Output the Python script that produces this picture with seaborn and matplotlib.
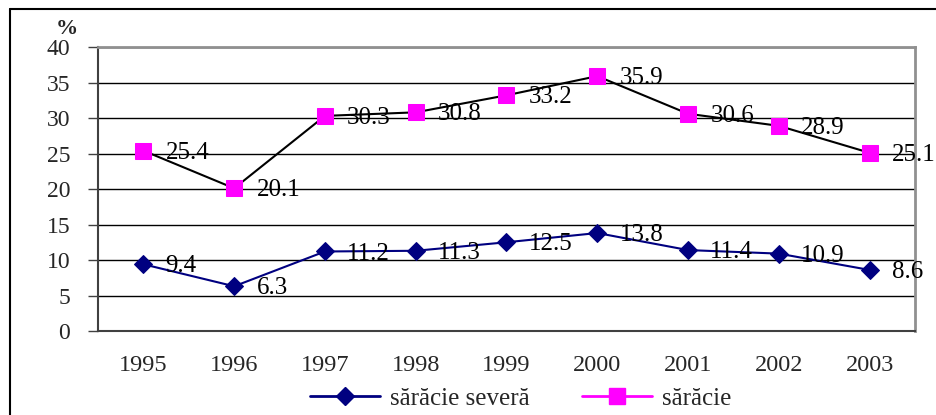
import matplotlib
matplotlib.use("Agg")
import matplotlib.pyplot as plt
from matplotlib.lines import Line2D
import pandas as pd
import seaborn as sns

years = ["1995", "1996", "1997", "1998", "1999", "2000", "2001", "2002", "2003"]
severe_poverty = [9.4, 6.3, 11.2, 11.3, 12.5, 13.8, 11.4, 10.9, 8.6]
poverty = [25.4, 20.1, 30.3, 30.8, 33.2, 35.9, 30.6, 28.9, 25.1]
y_ticks = [0, 5, 10, 15, 20, 25, 30, 35, 40]

sns.set_style("white")
plt.rcParams["font.family"] = ["Liberation Serif", "DejaVu Serif"]

data = pd.DataFrame({"An": years, "severa": severe_poverty, "saracie": poverty})
data["pos"] = range(len(years))

fig = plt.figure(figsize=(9.37, 4.15), dpi=100)
ax = fig.add_axes([0.1046, 0.2024, 0.9765 - 0.1046, 0.8867 - 0.2024])

sns.lineplot(data=data, x="pos", y="severa", ax=ax, color="#000080", lw=1.5,
             marker="D", markersize=9.5, markerfacecolor="#000080",
             markeredgecolor="#000080", zorder=3)
sns.lineplot(data=data, x="pos", y="saracie", ax=ax, color="black", lw=1.5,
             marker="s", markersize=11, markerfacecolor="#FF00FF",
             markeredgecolor="#FF00FF", zorder=3)

# data labels right of the markers
for series in (severe_poverty, poverty):
    for i, v in enumerate(series):
        ax.annotate(f"{v}", (i, v), xytext=(16, -1.5), textcoords="offset points",
                    ha="left", va="center", fontsize=18, color="black", zorder=4)

ax.set_xlim(-0.5, len(years) - 0.5)
ax.set_ylim(0, 40)
ax.set_yticks(y_ticks)
ax.set_yticklabels([str(t) for t in y_ticks], fontsize=17)
ax.set_xticks(range(len(years)))
ax.set_xticklabels(years, fontsize=17.5)
ax.set_xticks([i - 0.5 for i in range(len(years) + 1)], minor=True)
ax.tick_params(axis="x", which="major", length=0, pad=17)
ax.tick_params(axis="x", which="minor", length=5, width=1, color="#404040", direction="out")
ax.tick_params(axis="y", length=7, width=1, color="#404040", pad=13, left=True)
ax.set_xlabel("")
ax.set_ylabel("")

ax.grid(axis="y", color="black", lw=1)
ax.set_axisbelow(True)
for side in ("left", "bottom"):
    ax.spines[side].set_color("#404040")
    ax.spines[side].set_linewidth(1.5)
for side in ("top", "right"):
    ax.spines[side].set_color("#909090")
    ax.spines[side].set_linewidth(2)

fig.text(0.0715, 0.930, "%", fontsize=16, fontweight="bold", ha="center", va="center")

handles = [
    Line2D([], [], color="#000080", lw=2, marker="D", markersize=9.5,
           markerfacecolor="#000080", markeredgecolor="#000080"),
    Line2D([], [], color="#FF00FF", lw=2, marker="s", markersize=11,
           markerfacecolor="#FF00FF", markeredgecolor="#FF00FF"),
]
fig.legend(handles, ["sărăcie severă", "sărăcie"], loc="center", bbox_to_anchor=(0.556, 0.040),
           ncol=2, frameon=False, fontsize=18, handlelength=2.8, handletextpad=0.4,
           columnspacing=2.1)

# outer chart frame (top and left edges visible)
fig.add_artist(Line2D([0.0107, 1.0], [0.978, 0.978], color="black", lw=1.5, transform=fig.transFigure))
fig.add_artist(Line2D([0.0107, 0.0107], [0.0, 0.978], color="black", lw=1.5, transform=fig.transFigure))

fig.savefig("out.png", dpi=100)
